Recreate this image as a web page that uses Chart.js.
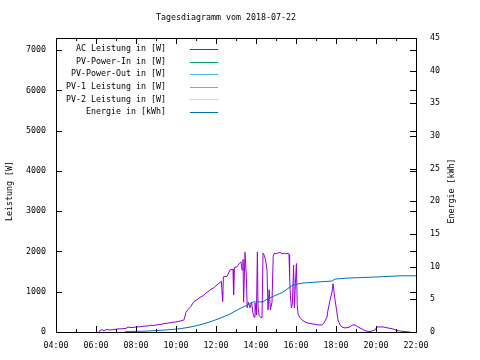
<!DOCTYPE html>
<html>
<head>
<meta charset="utf-8">
<script src="https://cdn.jsdelivr.net/npm/chart.js@4.4.1/dist/chart.umd.min.js"></script>
<style>
html,body{margin:0;padding:0;background:#fff;}
canvas{display:block;}
</style>
</head>
<body>
<canvas id="c" width="480" height="360"></canvas>
<script>
const titleText = "Tagesdiagramm vom 2018-07-22";
const seriesLabels = ["AC Leistung in [W]", "PV-Power-In in [W]", "PV-Power-Out in [W]", "PV-1 Leistung in [W]", "PV-2 Leistung in [W]", "Energie in [kWh]"];
const seriesColors = ["#9400d3", "#009e73", "#56b4e9", "#e69f00", "#f0e442", "#0072b2"];
const yLeftTitle = "Leistung [W]";
const yRightTitle = "Energie [kWh]";

// time in decimal hours
const acTimes = [6.15,6.2,6.3,6.4,6.5,6.7,6.9,7.05,7.3,7.5,7.6,7.8,8.0,8.2,8.4,8.6,8.75,8.9,9.05,9.25,9.4,9.6,9.8,10.0,10.2,10.4,10.45,10.5,10.6,10.75,10.9,11.05,11.2,11.35,11.5,11.6,11.75,11.9,12.05,12.2,12.27,12.3,12.33,12.37,12.55,12.7,12.85,12.88,12.92,13.05,13.15,13.25,13.3,13.35,13.38,13.45,13.52,13.56,13.62,13.7,13.78,13.84,13.9,13.95,14.02,14.07,14.1,14.15,14.22,14.3,14.35,14.42,14.48,14.55,14.6,14.66,14.72,14.8,14.86,14.92,15.0,15.1,15.2,15.3,15.4,15.5,15.6,15.65,15.68,15.72,15.77,15.82,15.88,15.92,15.97,16.02,16.06,16.1,16.18,16.3,16.45,16.6,16.85,17.1,17.3,17.4,17.55,17.6,17.7,17.8,17.85,17.95,18.05,18.1,18.2,18.3,18.45,18.7,18.8,18.95,19.1,19.3,19.45,19.7,19.95,20.05,20.35,20.6,20.85,21.1,21.45,21.7];
const acPower = [0,40,60,30,60,50,60,75,80,90,120,110,125,130,145,150,170,160,180,190,210,220,240,250,270,300,300,490,560,640,760,800,860,900,970,1000,1060,1100,1170,1230,1260,1000,760,1370,1380,1540,1560,920,1600,1620,1690,1740,1540,1800,740,1980,1350,600,740,600,740,490,370,720,420,1990,620,420,370,350,1960,1900,1780,1540,550,1050,550,740,1880,1960,1940,1960,1980,1940,1960,1940,1960,1920,1400,900,600,700,1660,600,1200,1700,700,450,370,300,250,220,200,175,175,230,370,545,790,990,1200,800,470,300,175,125,100,125,170,175,125,75,30,10,50,125,125,100,75,30,10,0];

const energyTimes = [7.45,8.6,9.45,10.2,10.7,11.2,11.7,12.2,12.7,13.2,13.55,13.85,14.35,14.55,15.05,15.35,15.7,15.85,16.1,16.35,17.05,17.8,17.95,18.55,19.85,21.2,22.0];
const energy = [0.05,0.15,0.3,0.5,0.75,1.1,1.55,2.1,2.75,3.6,4.1,4.6,4.6,5.05,5.7,6.1,6.9,7.2,7.35,7.5,7.65,7.8,8.1,8.25,8.4,8.6,8.6];

const xMin = 4, xMax = 22, xStep = 2;
const yLeftMax = 7300, yLeftStep = 1000;
const yRightMax = 45, yRightStep = 5;

const FONT = '"DejaVu Sans Mono", "Liberation Mono", monospace';
const FSIZE = 8.3;

function pts(xs, ys){ return xs.map((x,i)=>({x:x, y:ys[i]})); }

const datasets = seriesLabels.map((lab, i) => ({
  label: lab,
  data: i === 0 ? pts(acTimes, acPower) : (i === 5 ? pts(energyTimes, energy) : []),
  borderColor: seriesColors[i],
  backgroundColor: seriesColors[i],
  borderWidth: 1,
  pointRadius: 0,
  tension: 0,
  fill: false,
  yAxisID: i === 5 ? 'y2' : 'y',
  order: i === 5 ? 0 : 1
}));

const framePlugin = {
  id: 'gpFrame',
  afterDatasetsDraw(chart){
    const ctx = chart.ctx, a = chart.chartArea;
    const xs = chart.scales.x, ys = chart.scales.y, y2 = chart.scales.y2;
    ctx.save();
    ctx.strokeStyle = '#000';
    ctx.lineWidth = 1;
    ctx.beginPath();
    for (let h = xMin; h <= xMax; h++) {
      const px = Math.round(xs.getPixelForValue(h)) + 0.5;
      const len = (h % 2 === 0) ? 6 : 3;
      ctx.moveTo(px, a.bottom); ctx.lineTo(px, a.bottom - len);
      ctx.moveTo(px, a.top); ctx.lineTo(px, a.top + len);
    }
    for (let v = 0; v <= yLeftMax; v += yLeftStep) {
      const py = Math.round(ys.getPixelForValue(v)) + 0.5;
      ctx.moveTo(a.left, py); ctx.lineTo(a.left + 6, py);
      ctx.moveTo(a.right, py); ctx.lineTo(a.right - 6, py);
    }
    for (let v = 0; v <= yRightMax; v += yRightStep) {
      const py = Math.round(y2.getPixelForValue(v)) + 0.5;
      ctx.moveTo(a.right, py); ctx.lineTo(a.right - 6, py);
    }
    ctx.stroke();
    ctx.strokeRect(Math.round(a.left) + 0.5, Math.round(a.top) + 0.5, Math.round(a.right - a.left), Math.round(a.bottom - a.top));

    ctx.font = FSIZE + 'px ' + FONT;
    ctx.textBaseline = 'middle';
    // title
    ctx.fillStyle = '#000';
    ctx.textAlign = 'center';
    ctx.fillText(titleText, 226, 18);

    // legend
    ctx.textAlign = 'right';
    chart.data.datasets.forEach((ds, i) => {
      const y = a.top + 11 + i * 12.6;
      ctx.fillStyle = '#000';
      ctx.fillText(ds.label, a.left + 110, y);
      ctx.strokeStyle = ds.borderColor;
      ctx.beginPath();
      const ly = Math.round(y) + 0.5;
      ctx.moveTo(a.left + 134, ly); ctx.lineTo(a.left + 162, ly);
      ctx.stroke();
    });

    // axis titles, reading bottom to top
    ctx.fillStyle = '#000';
    ctx.textAlign = 'center';
    const midY = 191;
    ctx.save();
    ctx.translate(10, midY);
    ctx.rotate(-Math.PI / 2);
    ctx.fillText(yLeftTitle, 0, 0);
    ctx.restore();
    ctx.translate(452, midY);
    ctx.rotate(-Math.PI / 2);
    ctx.fillText(yRightTitle, 0, 0);
    ctx.restore();
  }
};

const noGrid = { display: false, drawTicks: false, tickLength: 0 };

new Chart(document.getElementById('c'), {
  type: 'line',
  data: { datasets: datasets },
  plugins: [framePlugin],
  options: {
    responsive: false,
    animation: false,
    devicePixelRatio: 1,
    layout: { padding: { top: 38 } },
    plugins: {
      legend: { display: false },
      tooltip: { enabled: false },
      title: { display: false }
    },
    scales: {
      x: {
        type: 'linear',
        min: xMin, max: xMax,
        grid: noGrid,
        border: { display: false },
        afterFit(s){ s.height = 28; },
        afterBuildTicks(s){
          const t = [];
          for (let h = xMin; h <= xMax; h += xStep) t.push({ value: h });
          s.ticks = t;
        },
        ticks: {
          color: '#000',
          padding: 9,
          maxRotation: 0,
          autoSkip: false,
          font: { family: FONT, size: FSIZE },
          callback: (v) => String(v).padStart(2, '0') + ':00'
        }
      },
      y: {
        position: 'left',
        min: 0, max: yLeftMax,
        grid: noGrid,
        border: { display: false },
        afterFit(s){ s.width = 56; },
        afterBuildTicks(s){
          const t = [];
          for (let v = 0; v <= yLeftMax; v += yLeftStep) t.push({ value: v });
          s.ticks = t;
        },
        ticks: { color: '#000', padding: 10, font: { family: FONT, size: FSIZE }, callback: (v) => String(v) }
      },
      y2: {
        position: 'right',
        min: 0, max: yRightMax,
        grid: noGrid,
        border: { display: false },
        afterFit(s){ s.width = 64; },
        afterBuildTicks(s){
          const t = [];
          for (let v = 0; v <= yRightMax; v += yRightStep) t.push({ value: v });
          s.ticks = t;
        },
        ticks: { color: '#000', padding: 14, font: { family: FONT, size: FSIZE }, callback: (v) => String(v) }
      }
    }
  }
});
</script>
</body>
</html>
